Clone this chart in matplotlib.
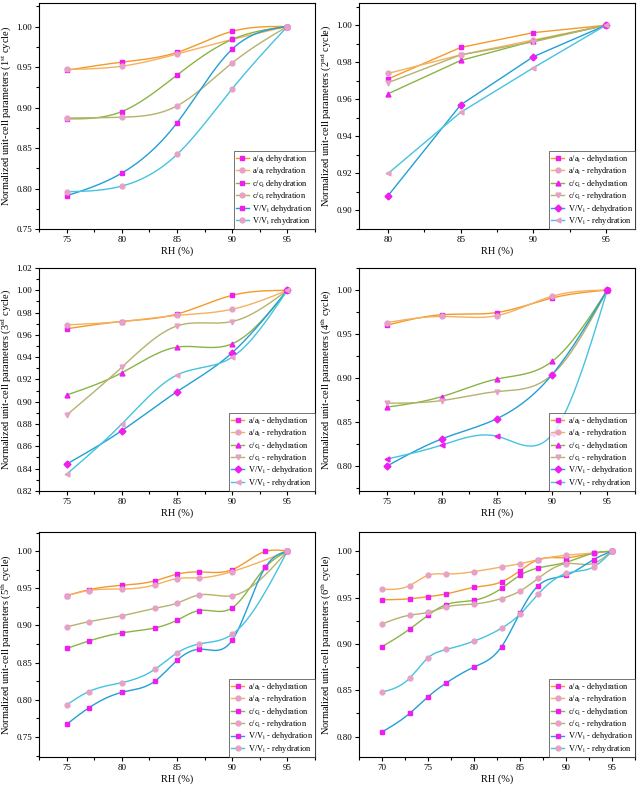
import numpy as np
import matplotlib
matplotlib.use('Agg')
import matplotlib.pyplot as plt
from matplotlib.ticker import AutoMinorLocator, MultipleLocator

plt.rcParams['font.family'] = ['Liberation Serif', 'DejaVu Serif']
plt.rcParams['mathtext.fontset'] = 'custom'
plt.rcParams['mathtext.rm'] = 'Liberation Serif'
plt.rcParams['mathtext.it'] = 'Liberation Serif:italic'

# ---- data ----
RH1 = [75, 80, 85, 90, 95]
a_de1 = [0.946, 0.956, 0.968, 0.994, 1.000]
a_re1 = [0.947, 0.951, 0.966, 0.984, 1.000]
c_de1 = [0.886, 0.895, 0.940, 0.984, 1.000]
c_re1 = [0.887, 0.888, 0.902, 0.955, 1.000]
V_de1 = [0.791, 0.819, 0.881, 0.972, 1.000]
V_re1 = [0.796, 0.803, 0.842, 0.923, 1.000]

RH2 = [80, 85, 90, 95]
a_de2 = [0.971, 0.988, 0.996, 1.000]
a_re2 = [0.974, 0.984, 0.992, 1.000]
c_de2 = [0.963, 0.981, 0.9915, 1.000]
c_re2 = [0.969, 0.984, 0.991, 1.000]
V_de2 = [0.908, 0.957, 0.983, 1.000]
V_re2 = [0.920, 0.953, 0.977, 1.000]

RH3 = [75, 80, 85, 90, 95]
a_de3 = [0.9655, 0.972, 0.9787, 0.9955, 1.000]
a_re3 = [0.969, 0.972, 0.9775, 0.983, 1.000]
c_de3 = [0.906, 0.926, 0.949, 0.952, 1.000]
c_re3 = [0.888, 0.931, 0.968, 0.972, 1.000]
V_de3 = [0.844, 0.874, 0.909, 0.944, 1.000]
V_re3 = [0.835, 0.880, 0.924, 0.940, 1.000]

RH4 = [75, 80, 85, 90, 95]
a_de4 = [0.960, 0.972, 0.9745, 0.991, 1.000]
a_re4 = [0.963, 0.970, 0.971, 0.993, 1.000]
c_de4 = [0.867, 0.879, 0.899, 0.919, 1.000]
c_re4 = [0.8715, 0.8745, 0.8847, 0.904, 1.000]
V_de4 = [0.800, 0.831, 0.854, 0.904, 1.000]
V_re4 = [0.808, 0.824, 0.834, 0.836, 1.000]

RH5_de = [75, 77, 80, 83, 85, 87, 90, 93, 95]
RH5_re = [75, 77, 80, 83, 85, 87, 90, 95]
a_de5 = [0.940, 0.948, 0.954, 0.960, 0.969, 0.972, 0.975, 0.9995, 1.000]
a_re5 = [0.940, 0.947, 0.949, 0.9545, 0.963, 0.964, 0.9725, 1.000]
c_de5 = [0.869, 0.879, 0.890, 0.8966, 0.907, 0.920, 0.9236, 0.978, 1.000]
c_re5 = [0.898, 0.905, 0.913, 0.923, 0.930, 0.941, 0.940, 1.000]
V_de5 = [0.767, 0.789, 0.810, 0.825, 0.853, 0.868, 0.880, 0.978, 1.000]
V_re5 = [0.793, 0.811, 0.823, 0.841, 0.863, 0.875, 0.888, 1.000]

RH6 = [70, 73, 75, 77, 80, 83, 85, 87, 90, 93, 95]
a_de6 = [0.9476, 0.9487, 0.951, 0.954, 0.961, 0.967, 0.979, 0.991, 0.993, 0.998, 1.000]
a_re6 = [0.959, 0.963, 0.974, 0.9755, 0.978, 0.983, 0.9866, 0.991, 0.9957, 0.998, 1.000]
c_de6 = [0.897, 0.916, 0.931, 0.9425, 0.947, 0.960, 0.974, 0.982, 0.988, 0.998, 1.000]
c_re6 = [0.9216, 0.931, 0.934, 0.940, 0.943, 0.949, 0.957, 0.971, 0.9866, 0.987, 1.000]
V_de6 = [0.805, 0.825, 0.843, 0.858, 0.875, 0.897, 0.9335, 0.963, 0.974, 0.991, 1.000]
V_re6 = [0.848, 0.863, 0.885, 0.894, 0.903, 0.917, 0.932, 0.954, 0.976, 0.983, 1.000]

cycles = ['1$^{\\mathrm{st}}$', '2$^{\\mathrm{nd}}$', '3$^{\\mathrm{rd}}$',
          '4$^{\\mathrm{th}}$', '5$^{\\mathrm{th}}$', '6$^{\\mathrm{th}}$']

# line colours
C_A_DE = '#f39a2a'
C_A_RE = '#f6b060'
C_C_DE = '#8ab446'
C_C_RE = '#b6b26c'
C_V_DE = '#229fd6'
C_V_RE = '#45c3e0'
MAG = '#f01cf0'
PINK = '#e6a2c6'


def spline(x, y, n=300):
    # natural cubic spline through the points (like Origin's spline connect)
    x = np.asarray(x, float)
    y = np.asarray(y, float)
    k = len(x)
    h = np.diff(x)
    A = np.zeros((k, k))
    b = np.zeros(k)
    A[0, 0] = 1
    A[-1, -1] = 1
    for i in range(1, k - 1):
        A[i, i - 1] = h[i - 1]
        A[i, i] = 2 * (h[i - 1] + h[i])
        A[i, i + 1] = h[i]
        b[i] = 6 * ((y[i + 1] - y[i]) / h[i] - (y[i] - y[i - 1]) / h[i - 1])
    M = np.linalg.solve(A, b)
    xs = np.linspace(x[0], x[-1], n)
    j = np.clip(np.searchsorted(x, xs) - 1, 0, k - 2)
    t1 = x[j + 1] - xs
    t0 = xs - x[j]
    hj = h[j]
    ys = (M[j] * t1 ** 3 / (6 * hj) + M[j + 1] * t0 ** 3 / (6 * hj)
          + (y[j] / hj - M[j] * hj / 6) * t1 + (y[j + 1] / hj - M[j + 1] * hj / 6) * t0)
    return xs, ys


def series(ax, x, y, color, marker, mcolor, label, smooth=True, ms=3.5):
    if smooth:
        xs, ys = spline(x, y)
    else:
        xs, ys = x, y
    ax.plot(xs, ys, color=color, lw=1.0, zorder=2)
    ax.plot(x, y, ls='none', marker=marker, ms=ms, color=mcolor, mec=mcolor, zorder=3)
    # legend proxy
    ax.plot([], [], color=color, lw=1.0, marker=marker, ms=ms, mfc=mcolor, mec=mcolor, label=label)


fig = plt.figure(figsize=(6.4, 7.93), dpi=100)
lefts = [0.061, 0.561]
bottoms = [0.7112, 0.381, 0.0454]
heights = [0.285, 0.281, 0.284]
axes = []
for r in range(3):
    for c in range(2):
        axes.append(fig.add_axes([lefts[c], bottoms[r], 0.431, heights[r]]))

panels = [
    (RH1, RH1, a_de1, a_re1, c_de1, c_re1, V_de1, V_re1),
    (RH2, RH2, a_de2, a_re2, c_de2, c_re2, V_de2, V_re2),
    (RH3, RH3, a_de3, a_re3, c_de3, c_re3, V_de3, V_re3),
    (RH4, RH4, a_de4, a_re4, c_de4, c_re4, V_de4, V_re4),
    (RH5_de, RH5_re, a_de5, a_re5, c_de5, c_re5, V_de5, V_re5),
    (RH6, RH6, a_de6, a_re6, c_de6, c_re6, V_de6, V_re6),
]
xlims = [(72.5, 97.5), (78, 97), (72.5, 97.5), (72.5, 97.5), (72.5, 97.5), (67.5, 97.5)]
ylims = [(0.75, 1.029), (0.89, 1.012), (0.82, 1.02), (0.772, 1.025), (0.723, 1.026), (0.778, 1.021)]
ysteps = [0.05, 0.02, 0.02, 0.05, 0.05, 0.05]

for k, ax in enumerate(axes):
    xd, xr, ad, ar, cd, cr, vd, vr = panels[k]
    sep = ' ' if k == 0 else ' - '
    if k in (1, 2, 3):
        mk = ['s', 'o', '^', 'v', 'D', '<']
        mc = [MAG, PINK, MAG, PINK, MAG, PINK if k != 3 else MAG]
    else:
        mk = ['s', 'o', 's', 'o', 's', 'o']
        mc = [MAG, PINK, MAG, PINK, MAG, PINK]
    smooth = k != 1
    series(ax, xd, ad, C_A_DE, mk[0], mc[0], 'a/a$_{\\mathrm{i}}$' + sep + 'dehydration', smooth)
    series(ax, xr, ar, C_A_RE, mk[1], mc[1], 'a/a$_{\\mathrm{i}}$' + sep + 'rehydration', smooth)
    series(ax, xd, cd, C_C_DE, mk[2], mc[2], 'c/c$_{\\mathrm{i}}$' + sep + 'dehydration', smooth)
    series(ax, xr, cr, C_C_RE, mk[3], mc[3], 'c/c$_{\\mathrm{i}}$' + sep + 'rehydration', smooth)
    series(ax, xd, vd, C_V_DE, mk[4], mc[4], 'V/V$_{\\mathrm{i}}$' + sep + 'dehydration', smooth)
    series(ax, xr, vr, C_V_RE, mk[5], mc[5], 'V/V$_{\\mathrm{i}}$' + sep + 'rehydration', smooth)

    ax.set_xlim(*xlims[k])
    ax.set_ylim(*ylims[k])
    ax.xaxis.set_major_locator(MultipleLocator(5))
    ax.xaxis.set_minor_locator(AutoMinorLocator(2))
    ax.yaxis.set_major_locator(MultipleLocator(ysteps[k]))
    ax.yaxis.set_minor_locator(AutoMinorLocator(2))
    ax.yaxis.set_major_formatter(plt.FormatStrFormatter('%.2f'))
    ax.tick_params(which='both', direction='out', top=False, right=False, labelsize=6.5, width=0.8, pad=2)
    ax.tick_params(which='major', length=3)
    ax.tick_params(which='minor', length=2)
    for s in ax.spines.values():
        s.set_linewidth(0.8)
    ax.set_xlabel('RH (%)', fontsize=7.5, labelpad=2)
    ax.set_ylabel('Normalized unit-cell parameters (' + cycles[k] + ' cycle)', fontsize=7.5)
    ax.yaxis.set_label_coords(-0.095, 0.5)
    leg = ax.legend(loc='lower right', fontsize=6, frameon=True, fancybox=False,
                    borderaxespad=0, handlelength=1.6, handletextpad=0.4,
                    labelspacing=0.05, borderpad=0.25)
    leg.get_frame().set_edgecolor('#333333')
    leg.get_frame().set_linewidth(0.6)

fig.savefig('out.png', dpi=100)
